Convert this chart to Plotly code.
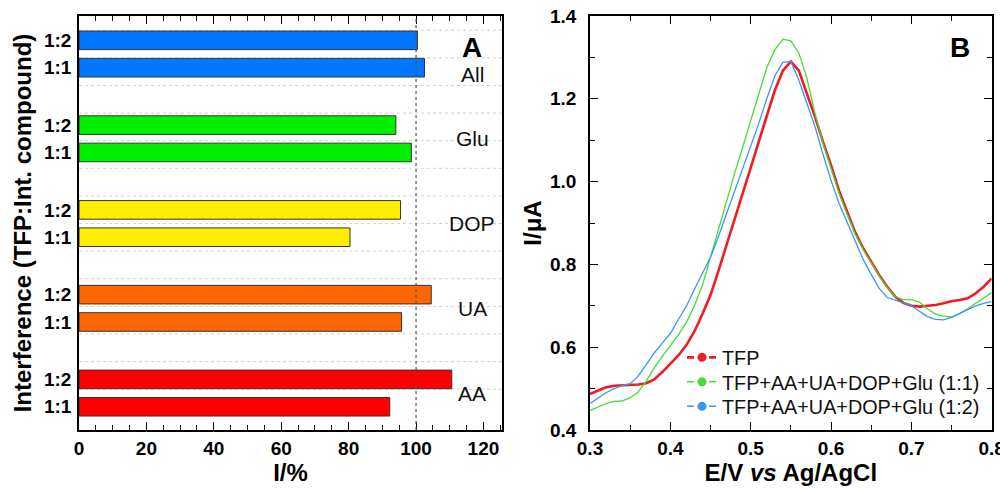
import plotly.graph_objects as go

# ---------------- Panel A data ----------------
compounds = ["AA", "UA", "DOP", "Glu", "All"]
ratios = ["1:1", "1:2"]
i_ratio_11 = [92.2, 95.7, 80.4, 98.6, 102.5]
i_ratio_12 = [110.6, 104.5, 95.4, 94.0, 100.4]
bar_colors = ["#FF0000", "#FF6600", "#FFEE00", "#00F000", "#0077FF"]
x_ticks_a = [0, 20, 40, 60, 80, 100, 120]

# ---------------- Panel B data ----------------
potential = [round(0.30 + 0.01 * k, 2) for k in range(51)]
i_tfp = [0.487, 0.496, 0.503, 0.507, 0.508, 0.509, 0.510, 0.513, 0.522, 0.540,
         0.560, 0.580, 0.605, 0.638, 0.680, 0.726, 0.785, 0.846, 0.907, 0.970,
         1.033, 1.096, 1.159, 1.220, 1.268, 1.290, 1.268, 1.215, 1.157, 1.096,
         1.040, 0.978, 0.927, 0.878, 0.839, 0.807, 0.774, 0.746, 0.722, 0.707,
         0.700, 0.698, 0.700, 0.702, 0.706, 0.711, 0.714, 0.718, 0.730, 0.746,
         0.766]
i_mix_11 = [0.447, 0.456, 0.464, 0.469, 0.470, 0.478, 0.492, 0.518, 0.550, 0.578,
            0.604, 0.630, 0.660, 0.700, 0.750, 0.818, 0.888, 0.955, 1.020, 1.083,
            1.145, 1.207, 1.275, 1.318, 1.344, 1.340, 1.310, 1.250, 1.165, 1.092,
            1.032, 0.972, 0.922, 0.874, 0.836, 0.804, 0.772, 0.744, 0.722, 0.715,
            0.715, 0.709, 0.693, 0.680, 0.675, 0.673, 0.681, 0.693, 0.706, 0.718,
            0.732]
i_mix_12 = [0.464, 0.478, 0.490, 0.500, 0.507, 0.512, 0.530, 0.558, 0.586, 0.610,
            0.633, 0.667, 0.699, 0.740, 0.777, 0.817, 0.868, 0.922, 0.976, 1.030,
            1.085, 1.140, 1.200, 1.255, 1.288, 1.290, 1.245, 1.188, 1.133, 1.066,
            1.003, 0.947, 0.903, 0.858, 0.812, 0.776, 0.742, 0.720, 0.714, 0.707,
            0.700, 0.686, 0.674, 0.667, 0.666, 0.672, 0.681, 0.691, 0.700, 0.706,
            0.710]
series_names = ["TFP", "TFP+AA+UA+DOP+Glu (1:1)", "TFP+AA+UA+DOP+Glu (1:2)"]
series_colors = ["#EE1C24", "#44DD33", "#3C96F0"]
series_widths = [2.6, 1.3, 1.3]
x_ticks_b = [0.3, 0.4, 0.5, 0.6, 0.7, 0.8]
y_ticks_b = [0.4, 0.6, 0.8, 1.0, 1.2, 1.4]

FONT = "Arial, Liberation Sans, sans-serif"
PAGE_W, PAGE_H = 1008, 489
OFF = 8                      # default page margin of the html body
W, H = PAGE_W - OFF, PAGE_H - OFF


def px_x(v):
    return (v - OFF) / W


def px_y(v):
    return 1 - (v - OFF) / H


fig = go.Figure()

# ---------------- Panel A ----------------
GROUP_STEP = 3.1
BASE = 0.85
ypos_11 = [BASE + GROUP_STEP * g for g in range(len(compounds))]
ypos_12 = [p + 1.0 for p in ypos_11]

for g, name in enumerate(compounds):
    fig.add_trace(go.Bar(
        x=[i_ratio_11[g], i_ratio_12[g]], y=[ypos_11[g], ypos_12[g]],
        orientation="h", width=0.68,
        marker=dict(color=bar_colors[g], line=dict(color="#333333", width=1)),
        xaxis="x", yaxis="y", showlegend=False, name=name))

# faint dotted horizontal gridlines
for k in range(14):
    gy = 14.62 - 1.01 * k
    fig.add_shape(type="line", xref="x", yref="y", x0=0, x1=125.5, y0=gy, y1=gy,
                  line=dict(color="#D0D0D0", width=1, dash="dot"), layer="below")
# dotted reference line at 100 %
fig.add_shape(type="line", xref="x", yref="y", x0=100, x1=100, y0=0, y1=15.14,
              line=dict(color="#555555", width=1.2, dash="dot"), layer="above")

tickvals_a, ticktext_a = [], []
for g in range(len(compounds)):
    tickvals_a += [ypos_11[g], ypos_12[g]]
    ticktext_a += [ratios[0], ratios[1]]

for g, name in enumerate(compounds):
    center = (ypos_11[g] + ypos_12[g]) / 2
    fig.add_annotation(x=116.6, y=center, xref="x", yref="y", text=name,
                       showarrow=False, font=dict(family=FONT, size=21, color="#111"),
                       yshift=-20 if name == "All" else 0)
fig.add_annotation(x=0.929, y=0.923, xref="x domain", yref="y domain", text="<b>A</b>",
                   showarrow=False, xanchor="center", yanchor="middle",
                   font=dict(family=FONT, size=28, color="#000"))

# ---------------- Panel B ----------------
curves = [i_tfp, i_mix_11, i_mix_12]
for s in range(3):
    fig.add_trace(go.Scatter(
        x=potential, y=curves[s], mode="lines",
        line=dict(color=series_colors[s], width=series_widths[s]),
        xaxis="x2", yaxis="y2", showlegend=False, name=series_names[s]))

legend_ids = ["legend", "legend2", "legend3"]
legend_tops = [338, 362.5, 387]
for s in range(3):
    fig.add_trace(go.Scatter(
        x=[None], y=[None], mode="lines+markers", name=series_names[s],
        line=dict(color=series_colors[s], width=series_widths[s] if s == 0 else 1.5,
                  dash="7px,4px"),
        marker=dict(color=series_colors[s], size=9),
        xaxis="x2", yaxis="y2", showlegend=True, legend=legend_ids[s]))

fig.add_annotation(x=0.921, y=0.923, xref="x2 domain", yref="y2 domain",
                   text="<b>B</b>", showarrow=False, xanchor="center", yanchor="middle",
                   font=dict(family=FONT, size=28, color="#000"))

TICKFONT = dict(family=FONT, size=19, color="#000", weight="bold")
axis_common = dict(showline=True, linecolor="#000", linewidth=1.5, mirror="ticks",
                   ticks="inside", tickcolor="#000", tickwidth=1.3, ticklen=8,
                   zeroline=False, showgrid=False, automargin=False,
                   ticklabeloverflow="allow", tickfont=TICKFONT)

xa = [px_x(79), px_x(502)]
xb = [px_x(590), px_x(991.7)]
yd = [px_y(430), px_y(16)]


def legend_box(top):
    return dict(x=px_x(682), y=px_y(top), xanchor="left", yanchor="top",
                bgcolor="rgba(0,0,0,0)", borderwidth=0,
                font=dict(family=FONT, size=19.8, color="#111"), itemwidth=30)


fig.update_layout(
    template="none",
    width=W, height=H,
    margin=dict(l=0, r=0, t=0, b=0, autoexpand=False),
    paper_bgcolor="white", plot_bgcolor="white",
    barmode="overlay",
    font=dict(family=FONT, color="#000"),
    xaxis=dict(domain=xa, range=[0, 125.5], tickvals=x_ticks_a,
               minor=dict(ticks="inside", ticklen=5, tickwidth=1.2, dtick=5, tick0=0,
                          tickcolor="#000"),
               title=dict(text="<b>I/%</b>", font=dict(family=FONT, size=24), standoff=0),
               anchor="y", **axis_common),
    yaxis=dict(domain=yd, range=[0, 15.14], tickvals=tickvals_a, ticktext=ticktext_a,
               title=dict(text="<b>Interference (TFP:Int. compound)</b>",
                          font=dict(family=FONT, size=24), standoff=6),
               anchor="x", ticklabelstandoff=2,
               **{**axis_common, "ticks": ""}),
    xaxis2=dict(domain=xb, range=[0.3, 0.8], tickvals=x_ticks_b,
                ticktext=["%.1f" % v for v in x_ticks_b],
                minor=dict(ticks="inside", ticklen=5, tickwidth=1.2, dtick=0.05,
                           tick0=0.3, tickcolor="#000"),
                title=dict(text="<b>E/V <i>vs</i> Ag/AgCl</b>",
                           font=dict(family=FONT, size=24), standoff=6),
                anchor="y2", **axis_common),
    yaxis2=dict(domain=yd, range=[0.4, 1.4], tickvals=y_ticks_b,
                ticktext=["%.1f" % v for v in y_ticks_b],
                minor=dict(ticks="inside", ticklen=5, tickwidth=1.2, dtick=0.1,
                           tick0=0.4, tickcolor="#000"),
                title=dict(text="<b>I/μA</b>", font=dict(family=FONT, size=24), standoff=2),
                anchor="x2", ticklabelstandoff=8, **axis_common),
    legend=legend_box(legend_tops[0]),
    legend2=legend_box(legend_tops[1]),
    legend3=legend_box(legend_tops[2]),
)

fig.write_html("out.html")
